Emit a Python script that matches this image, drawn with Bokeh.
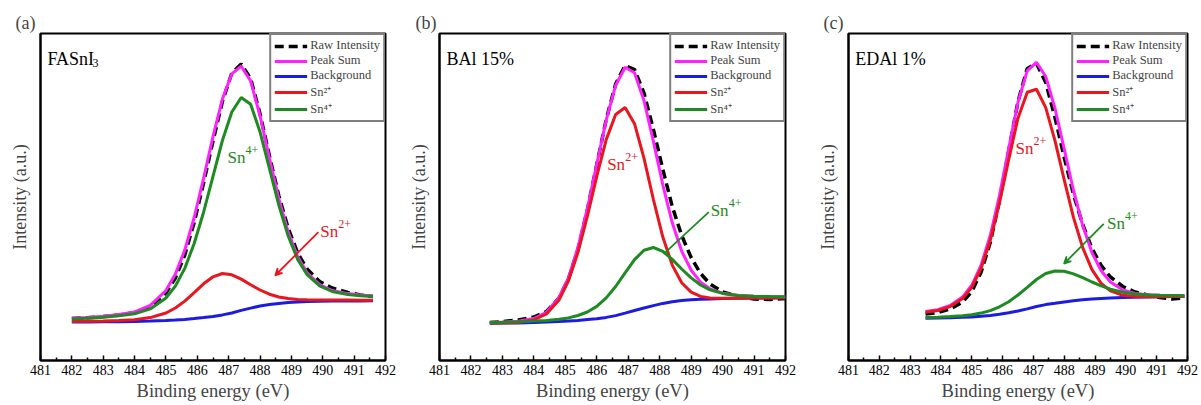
from bokeh.plotting import figure
from bokeh.layouts import row
from bokeh.models import Range1d, Legend, LegendItem, Arrow, VeeHead, FixedTicker
from bokeh.core.properties import value
from bokeh.embed import file_html
from bokeh.resources import INLINE

# ---------------- data ----------------
x_ticks = [481, 482, 483, 484, 485, 486, 487, 488, 489, 490, 491, 492]

# (a) FASnI3
e_a = [482.0, 482.5, 483.0, 483.5, 484.0, 484.5, 485.0, 485.3, 485.6, 485.9, 486.2, 486.5, 486.8, 487.1,
       487.4, 487.7, 488.0, 488.3, 488.6, 488.9, 489.2, 489.5, 489.9, 490.3, 490.8, 491.2, 491.6]
raw_a = [42.0, 42.8, 44.0, 45.5, 48.0, 54.0, 67.5, 82.5, 105.5, 138.0, 177.5, 219.5, 259.0, 287.5,
         296.5, 282.0, 246.5, 204.5, 164.5, 132.0, 107.5, 91.5, 79.0, 72.5, 68.0, 65.5, 64.0]
sum_a = [42.2, 43.0, 44.2, 45.9, 48.6, 55.1, 70.0, 86.4, 110.4, 143.0, 182.1, 223.8, 261.4, 286.7,
         294.3, 279.6, 244.6, 202.2, 161.6, 128.2, 103.7, 87.7, 75.9, 70.0, 66.9, 65.4, 64.5]
bg_a = [38.5, 38.6, 38.7, 38.8, 39.0, 39.4, 40.0, 40.5, 41.1, 41.9, 42.9, 44.0, 45.6, 47.5,
        50.1, 52.4, 54.5, 55.9, 57.1, 57.9, 58.5, 59.0, 59.3, 59.5, 59.6, 59.6, 59.7]
sn2_a = [39.1, 39.3, 39.6, 40.0, 40.8, 42.9, 47.5, 52.5, 59.4, 67.9, 76.7, 83.7, 87.0, 85.7,
         81.4, 75.7, 70.5, 66.3, 63.5, 61.9, 61.1, 60.8, 60.6, 60.5, 60.4, 60.3, 60.3]
sn4_a = [41.6, 42.3, 43.3, 44.7, 46.8, 51.6, 62.5, 74.4, 92.1, 117.0, 148.3, 184.1, 220.0, 248.5,
         263.0, 256.3, 228.6, 191.8, 155.2, 124.2, 101.1, 85.9, 74.6, 69.0, 66.1, 64.7, 63.9]

# (b) BAl 15%
e_b = [482.6, 483.0, 483.5, 484.0, 484.4, 484.8, 485.1, 485.4, 485.7, 486.0, 486.3, 486.6, 486.9, 487.2,
       487.5, 487.8, 488.1, 488.4, 488.7, 489.0, 489.3, 489.6, 490.0, 490.5, 491.0, 491.5, 492.0]
raw_b = [38.0, 38.8, 40.5, 43.5, 49.0, 62.5, 81.5, 111.0, 150.5, 196.0, 241.0, 276.5, 295.0, 291.0,
         267.5, 231.0, 191.0, 154.0, 125.0, 103.0, 87.0, 76.5, 68.5, 64.0, 61.5, 61.0, 62.0]
sum_b = [38.0, 38.4, 39.2, 42.0, 48.2, 63.0, 82.9, 112.8, 151.8, 196.5, 240.4, 275.1, 293.3, 287.7,
         260.1, 219.1, 175.5, 137.7, 109.3, 90.3, 78.4, 71.7, 67.3, 65.0, 64.3, 63.9, 63.8]
bg_b = [37.3, 37.4, 37.6, 38.0, 38.4, 38.9, 39.4, 40.1, 40.9, 41.7, 43.1, 44.9, 47.4, 50.0,
        52.5, 54.9, 57.1, 58.8, 59.9, 60.7, 61.2, 61.6, 62.0, 62.3, 62.5, 62.6, 62.7]
sn2_b = [37.3, 37.5, 38.1, 40.6, 46.5, 60.6, 79.7, 107.9, 144.2, 184.1, 220.9, 246.0, 253.0, 236.8,
         202.4, 161.0, 123.4, 95.4, 77.7, 68.4, 64.1, 62.6, 62.2, 62.3, 62.5, 62.6, 62.7]
sn4_b = [38.0, 38.3, 38.7, 39.4, 40.1, 41.3, 42.6, 45.0, 48.5, 54.1, 62.6, 74.0, 87.7, 100.9,
         110.2, 113.0, 109.2, 101.1, 91.5, 82.6, 75.5, 70.7, 67.1, 65.0, 64.3, 63.9, 63.8]

# (c) EDAl 1%
e_c = [483.5, 483.9, 484.3, 484.7, 485.0, 485.3, 485.6, 485.9, 486.2, 486.5, 486.8, 487.1, 487.4,
       487.7, 488.0, 488.3, 488.6, 488.9, 489.2, 489.5, 489.9, 490.3, 490.7, 491.1, 491.5, 491.9]
raw_c = [46.5, 48.0, 51.5, 58.5, 69.0, 88.0, 118.0, 160.0, 210.0, 259.0, 292.0, 297.0, 278.0,
         243.0, 203.0, 166.0, 136.0, 112.0, 95.0, 83.5, 74.0, 68.5, 65.5, 63.0, 61.5, 62.5]
sum_c = [48.9, 50.8, 55.0, 63.4, 75.2, 95.1, 125.0, 165.2, 212.1, 258.3, 289.9, 298.2, 284.0,
         252.1, 211.3, 170.0, 134.9, 107.9, 89.7, 78.5, 70.5, 67.1, 65.7, 65.2, 65.0, 64.8]
bg_c = [42.3, 42.5, 42.8, 43.2, 43.6, 44.3, 45.1, 46.3, 47.7, 49.5, 51.6, 54.0, 55.9,
        57.2, 58.6, 59.7, 60.8, 61.4, 62.0, 62.5, 63.0, 63.3, 63.6, 63.8, 63.9, 64.0]
sn2_c = [48.2, 50.0, 53.9, 61.9, 73.1, 92.0, 120.2, 157.8, 201.0, 242.3, 268.3, 271.2, 252.9,
         219.8, 180.7, 143.1, 112.8, 90.8, 77.1, 69.6, 65.2, 63.9, 63.7, 63.8, 63.9, 64.0]
sn4_c = [43.0, 43.3, 43.9, 44.7, 45.7, 47.4, 49.9, 53.7, 58.8, 65.5, 73.2, 81.0, 87.0,
         89.5, 89.2, 86.6, 82.9, 78.5, 74.6, 71.4, 68.3, 66.5, 65.6, 65.2, 65.0, 64.8]

panel_letters = ["(a)", "(b)", "(c)"]
sample_names = ["FASnI", "BAl 15%", "EDAl 1%"]
sample_subs = ["3", "", ""]
legend_labels = ["Raw Intensity", "Peak Sum", "Background", "Sn\u00b2\u207a", "Sn\u2074\u207a"]

# annotation texts: (x, y, superscript, colour)
ann_a = [(486.96, 203, "4+", "sn4"), (489.92, 129, "2+", "sn2")]
ann_b = [(486.33, 196, "2+", "sn2"), (489.62, 150, "4+", "sn4")]
ann_c = [(486.42, 212, "2+", "sn2"), (489.39, 137, "4+", "sn4")]
arrow_a = (489.86, 128.3, 488.48, 85.0, "sn2", True)
arrow_b = (489.56, 148.3, 488.13, 106.7, "sn4", False)
arrow_c = (489.28, 136.7, 487.99, 96.7, "sn4", True)

# ---------------- styling ----------------
FONT = "Liberation Serif"
COLORS = {"raw": "black", "sum": "#ff22ff", "bg": "#1c1ce0", "sn2": "#e8161e", "sn4": "#1e8a22"}


def make_panel(letter, sample, sub, e, raw, tot, bg, sn2, sn4, ann, arr,
               b_left, b_right, t_offset):
    p = figure(width=400, height=405, x_range=Range1d(481, 492), y_range=Range1d(0, 327),
               output_backend="svg", toolbar_location=None,
               min_border_left=b_left, min_border_right=b_right,
               min_border_top=33, min_border_bottom=45)
    p.background_fill_color = "white"
    p.border_fill_color = "white"
    p.xgrid.visible = False
    p.ygrid.visible = False
    p.outline_line_color = "black"
    p.outline_line_width = 2

    p.title.text = letter
    p.title.text_font = FONT
    p.title.text_font_size = "18px"
    p.title.text_font_style = "normal"
    p.title.align = "left"
    p.title.offset = t_offset
    p.title.standoff = 2

    xa = p.xaxis[0]
    xa.ticker = FixedTicker(ticks=x_ticks, minor_ticks=[t + 0.5 for t in x_ticks[:-1]])
    xa.major_tick_in = 5
    xa.major_tick_out = 0
    xa.minor_tick_in = 3
    xa.minor_tick_out = 0
    xa.major_tick_line_width = 1.5
    xa.minor_tick_line_width = 1.5
    xa.axis_line_width = 2
    xa.major_label_text_font = FONT
    xa.major_label_text_font_size = "14px"
    xa.major_label_text_color = "black"
    xa.major_label_standoff = 4
    xa.axis_label = "Binding energy (eV)"
    xa.axis_label_text_font = FONT
    xa.axis_label_text_font_size = "18.5px"
    xa.axis_label_text_font_style = "normal"
    xa.axis_label_standoff = 3

    ya = p.yaxis[0]
    ya.ticker = FixedTicker(ticks=[])
    ya.major_tick_line_color = None
    ya.minor_tick_line_color = None
    ya.axis_line_width = 2
    ya.axis_label = "Intensity (a.u.)"
    ya.axis_label_text_font = FONT
    ya.axis_label_text_font_size = "18px"
    ya.axis_label_text_font_style = "normal"
    ya.axis_label_standoff = 11

    r_raw = p.line(e, raw, line_color=COLORS["raw"], line_width=3.5, line_dash="9 5")
    r_sum = p.line(e, tot, line_color=COLORS["sum"], line_width=3)
    r_bg = p.line(e, bg, line_color=COLORS["bg"], line_width=3)
    r_sn2 = p.line(e, sn2, line_color=COLORS["sn2"], line_width=3)
    r_sn4 = p.line(e, sn4, line_color=COLORS["sn4"], line_width=3)

    items = [LegendItem(label=lab, renderers=[r]) for lab, r in
             zip(legend_labels, [r_raw, r_sum, r_bg, r_sn2, r_sn4])]
    leg = Legend(items=items, location="top_right", margin=0, padding=3, spacing=0,
                 label_text_font=FONT, label_text_font_size="12.5px",
                 label_height=14, glyph_height=14, glyph_width=33, label_standoff=3,
                 label_text_line_height=1.0,
                 border_line_color="black", border_line_width=2,
                 background_fill_color="white", background_fill_alpha=1.0)
    p.add_layout(leg)

    # sample name
    p.text(x=[481.22], y=[302], text=[sample], text_font=value(FONT), text_font_size="18px",
           text_color="black", text_baseline="alphabetic", text_align="left")
    if sub:
        p.text(x=[481.22], y=[302], text=[sub], text_font=value(FONT), text_font_size="12px",
               text_color="black", text_baseline="alphabetic", text_align="left",
               x_offset=45, y_offset=4)

    for (ax, ay, sup, ck) in ann:
        p.text(x=[ax], y=[ay], text=["Sn"], text_font=value(FONT), text_font_size="17px",
               text_color=COLORS[ck], text_baseline="alphabetic", text_align="left")
        p.text(x=[ax], y=[ay], text=[sup], text_font=value(FONT), text_font_size="12px",
               text_color=COLORS[ck], text_baseline="alphabetic", text_align="left",
               x_offset=18, y_offset=-8)

    x0, y0, x1, y1, ck, head = arr
    if head:
        p.add_layout(Arrow(x_start=x0, y_start=y0, x_end=x1, y_end=y1,
                           line_color=COLORS[ck], line_width=1.8,
                           end=VeeHead(size=7, line_color=COLORS[ck], fill_color=COLORS[ck],
                                       line_width=1.5)))
    else:
        p.segment(x0=[x0], y0=[y0], x1=[x1], y1=[y1], line_color=COLORS[ck], line_width=1.8)
    return p


pa = make_panel(panel_letters[0], sample_names[0], sample_subs[0], e_a, raw_a, sum_a, bg_a, sn2_a, sn4_a,
                ann_a, arrow_a, 40, 15, -25)
pb = make_panel(panel_letters[1], sample_names[1], sample_subs[1], e_b, raw_b, sum_b, bg_b, sn2_b, sn4_b,
                ann_b, arrow_b, 39, 15, -24)
pc = make_panel(panel_letters[2], sample_names[2], sample_subs[2], e_c, raw_c, sum_c, bg_c, sn2_c, sn4_c,
                ann_c, arrow_c, 48, 13, -25)

layout = row(pa, pb, pc, spacing=0)
open("out.html", "w").write(file_html(layout, INLINE))
